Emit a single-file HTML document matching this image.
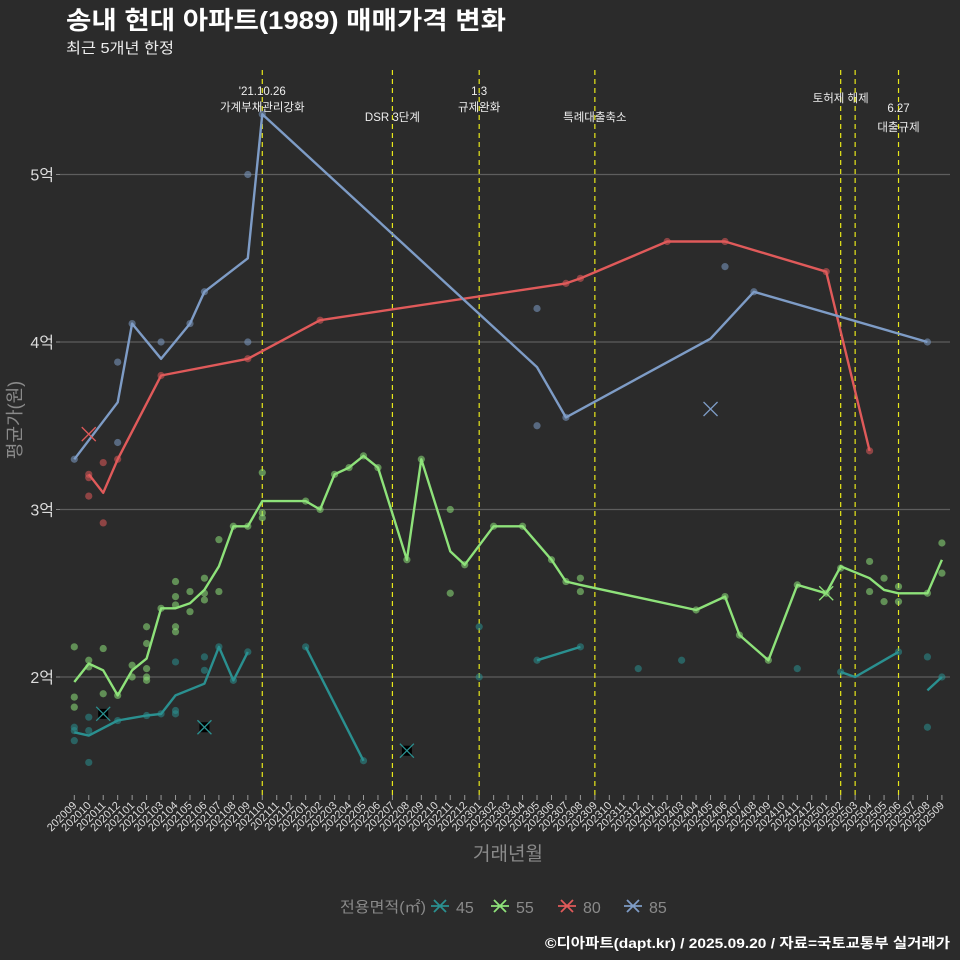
<!DOCTYPE html>
<html><head><meta charset="utf-8"><style>
html,body{margin:0;padding:0;background:#2b2b2b;}
svg{display:block;font-family:"Liberation Sans","Noto Sans CJK KR",sans-serif;}
</style></head><body>
<svg id="chart" width="960" height="960" viewBox="0 0 960 960">
<rect width="960" height="960" fill="#2b2b2b"/>
<text x="66" y="29" fill="#fff" font-size="25" font-weight="bold" textLength="440" lengthAdjust="spacingAndGlyphs">송내 현대 아파트(1989) 매매가격 변화</text>
<text x="66" y="53" fill="#eee" font-size="15" textLength="108" lengthAdjust="spacingAndGlyphs">최근 5개년 한정</text>
<text x="16" y="420" fill="#8a8a8a" font-size="18" transform="rotate(-90 16 420)" text-anchor="middle" dominant-baseline="middle">평균가(원)</text>
<text x="508" y="860" fill="#8a8a8a" font-size="19" text-anchor="middle">거래년월</text>
<g id="grid"></g><g id="events"></g><g id="marks"></g><g id="xaxis"></g>
<g>
<text x="340" y="912" fill="#8a8a8a" font-size="15" textLength="86" lengthAdjust="spacingAndGlyphs">전용면적(㎡)</text>
<g id="legend"></g>
</g>
<text x="950" y="948" fill="#fff" font-size="14" font-weight="bold" text-anchor="end" textLength="405" lengthAdjust="spacingAndGlyphs">©디아파트(dapt.kr) / 2025.09.20 / 자료=국토교통부 실거래가</text>
</svg>
<script>
const yTicks=[2,3,4,5];
const yTickLabels=["2억","3억","4억","5억"];
const startYear=2020, startMonth=9, nMonths=61;
const eventIdx=[13,22,28,36,53,54,57];
const eventLabels=[["'21.10.26","가계부채관리강화"],["DSR 3단계"],["1.3","규제완화"],["특례대출축소"],["토허제 해제"],[],["6.27","대출규제"]];
const eventLabelY=[[95,111],[121],[95,111],[121],[102],[],[112,131]];
const seriesNames=["45","55","80","85"];
const seriesColors=["#2a9090","#8ee27a","#e05a5a","#7e9cc6"];
const line45=[[0,1.67],[1,1.65],[3,1.74],[5,1.77],[6,1.78],[7,1.89],[9,1.96],[10,2.18],[11,1.98],[12,2.15],null,[16,2.18],[20,1.50],null,[32,2.10],[35,2.18],null,[53,2.03],[54,2.0],[57,2.15],null,[59,1.92],[60,2.0]];
const line55=[[0,1.97],[1,2.08],[2,2.04],[3,1.89],[4,2.04],[5,2.11],[6,2.41],[7,2.41],[8,2.44],[9,2.52],[10,2.66],[11,2.90],[12,2.90],[13,3.05],[16,3.05],[17,3.0],[18,3.21],[19,3.25],[20,3.32],[21,3.25],[23,2.70],[24,3.30],[26,2.75],[27,2.67],[29,2.90],[31,2.90],[33,2.70],[34,2.57],[35,2.55],[43,2.40],[45,2.48],[46,2.25],[48,2.10],[50,2.55],[52,2.50],[53,2.66],[55,2.59],[56,2.52],[57,2.50],[59,2.50],[60,2.70]];
const line80=[[1,3.21],[2,3.10],[3,3.30],[6,3.80],[12,3.90],[17,4.13],[34,4.35],[35,4.38],[41,4.60],[45,4.60],[52,4.42],[55,3.35]];
const line85=[[0,3.30],[3,3.64],[4,4.11],[6,3.90],[8,4.11],[9,4.30],[12,4.50],[13,5.36],[32,3.85],[34,3.55],[44,4.02],[47,4.30],[59,4.0]];
const pts45=[[0,1.70],[0,1.68],[0,1.62],[1,1.76],[1,1.68],[1,1.49],[3,1.74],[5,1.77],[6,1.78],[7,1.80],[7,1.78],[7,2.09],[9,2.12],[9,2.04],[10,2.18],[11,1.98],[12,2.15],[16,2.18],[20,1.50],[28,2.30],[28,2.00],[32,2.10],[35,2.18],[39,2.05],[42,2.10],[50,2.05],[53,2.03],[57,2.15],[59,2.12],[59,1.70],[60,2.0]];
const pts55=[[0,2.18],[0,1.88],[0,1.82],[1,2.10],[1,2.06],[2,2.17],[2,1.90],[3,1.89],[4,2.07],[4,2.00],[5,2.30],[5,2.20],[5,2.05],[5,2.00],[5,1.98],[6,2.41],[7,2.57],[7,2.48],[7,2.43],[7,2.30],[7,2.27],[8,2.51],[8,2.39],[9,2.59],[9,2.50],[9,2.46],[10,2.51],[10,2.82],[11,2.90],[12,2.90],[13,3.22],[13,2.98],[13,2.95],[16,3.05],[17,3.0],[18,3.21],[19,3.25],[20,3.32],[21,3.25],[23,2.70],[24,3.30],[26,3.0],[26,2.50],[27,2.67],[29,2.90],[31,2.90],[33,2.70],[34,2.57],[35,2.59],[35,2.51],[43,2.40],[45,2.48],[46,2.25],[48,2.10],[50,2.55],[52,2.50],[53,2.65],[55,2.69],[55,2.51],[56,2.59],[56,2.45],[57,2.54],[57,2.45],[59,2.50],[60,2.80],[60,2.62]];
const pts80=[[1,3.21],[1,3.19],[1,3.08],[2,3.28],[2,2.92],[3,3.30],[6,3.80],[12,3.90],[17,4.13],[34,4.35],[35,4.38],[41,4.60],[45,4.60],[52,4.42],[55,3.35]];
const pts85=[[0,3.30],[3,3.88],[3,3.40],[4,4.11],[6,4.00],[8,4.11],[9,4.30],[12,5.00],[12,4.00],[13,5.36],[32,4.20],[32,3.50],[34,3.55],[45,4.45],[47,4.30],[59,4.0]];
const cancel45=[[2,1.78],[9,1.70],[23,1.56]];
const cancel55=[[52,2.50]];
const cancel80=[[1,3.45]];
const cancel85=[[44,3.60]];

const NS="http://www.w3.org/2000/svg";
const X0=74.3, DX=14.46, PL=60, PR=950, PT=70, PB=795;
function xs(i){return X0+i*DX;}
function ys(v){return 677-(v-2)*167.5;}
function mk(tag,attrs,parent){const e=document.createElementNS(NS,tag);for(const k in attrs)e.setAttribute(k,attrs[k]);parent.appendChild(e);return e;}
const grid=document.getElementById('grid');
yTicks.forEach((t,i)=>{
  const l=mk('line',{x1:PL,x2:PR,y1:ys(t),y2:ys(t),stroke:'#5e5e5e','stroke-width':1.2},grid);
  
  
  const tk=mk('line',{x1:56,x2:60,y1:ys(t),y2:ys(t),stroke:'#888'},grid);
  
  
  const tx=mk('text',{x:54,y:ys(t)+6,fill:'#ddd','font-size':16,'text-anchor':'end'},grid);
  tx.textContent=yTickLabels[i];
  
  
});
const ev=document.getElementById('events');
eventIdx.forEach((m,i)=>{
  const l=mk('line',{x1:xs(m),x2:xs(m),y1:PT,y2:PB,stroke:'#e8e81a','stroke-width':1.2,'stroke-dasharray':'5,4'},ev);
  
  
  eventLabels[i].forEach((s,j)=>{
    const t=mk('text',{x:xs(m),y:eventLabelY[i][j],fill:'#eee','font-size':11.5,'text-anchor':'middle'},ev);
    t.textContent=s;
    
    
  });
});
const marks=document.getElementById('marks');
const lines=[line45,line55,line80,line85], pts=[pts45,pts55,pts80,pts85], cancels=[cancel45,cancel55,cancel80,cancel85];
pts.forEach((arr,s)=>{arr.forEach(p=>{
  const c=mk('circle',{cx:xs(p[0]),cy:ys(p[1]),r:3.6,fill:seriesColors[s],'fill-opacity':0.55},marks);
  
  
});});
lines.forEach((arr,s)=>{
  let segs=[],cur=[];
  arr.forEach(p=>{if(p===null){if(cur.length)segs.push(cur);cur=[];}else cur.push(xs(p[0]).toFixed(1)+','+ys(p[1]).toFixed(1));});
  if(cur.length)segs.push(cur);
  segs.forEach(sg=>{
    const pl=mk('polyline',{points:sg.join(' '),fill:'none',stroke:seriesColors[s],'stroke-width':2.4,'stroke-linejoin':'round'},marks);
    
    
  });
});
cancels.forEach((arr,s)=>{arr.forEach(p=>{
  const x=xs(p[0]),y=ys(p[1]);
  const g=mk('g',{},marks);
  
  
  if(s===0)mk('rect',{x:x-5,y:y-5,width:10,height:10,fill:'#000'},g);
  mk('path',{d:`M${x-7},${y-7}L${x+7},${y+7}M${x-7},${y+7}L${x+7},${y-7}`,stroke:seriesColors[s],'stroke-width':1.3},g);
});});
const xa=document.getElementById('xaxis');
for(let i=0;i<nMonths;i++){
  const mm=startMonth-1+i, y=startYear+Math.floor(mm/12), m=mm%12+1;
  const lab=y+String(m).padStart(2,'0');
  const tk=mk('line',{x1:xs(i),x2:xs(i),y1:795,y2:800,stroke:'#999'},xa);
  
  
  const t=mk('text',{x:xs(i)+3,y:806,fill:'#ddd','font-size':11,'text-anchor':'end',transform:`rotate(-45 ${xs(i)+3} 806)`},xa);
  t.textContent=lab;
  
  
}
const lg=document.getElementById('legend');
const lgX=[450,510,577,643];
seriesNames.forEach((n,s)=>{
  const g=mk('g',{},lg);
  
  
  const x=lgX[s],y=906;
  mk('path',{d:`M${x-19},${y}L${x-1},${y}M${x-16},${y-6}L${x-4},${y+6}M${x-16},${y+6}L${x-4},${y-6}`,stroke:seriesColors[s],'stroke-width':1.8},g);
  const t=mk('text',{x:x+6,y:913,fill:'#8a8a8a','font-size':16},g);
  t.textContent=n;
});
</script>
</body></html>
